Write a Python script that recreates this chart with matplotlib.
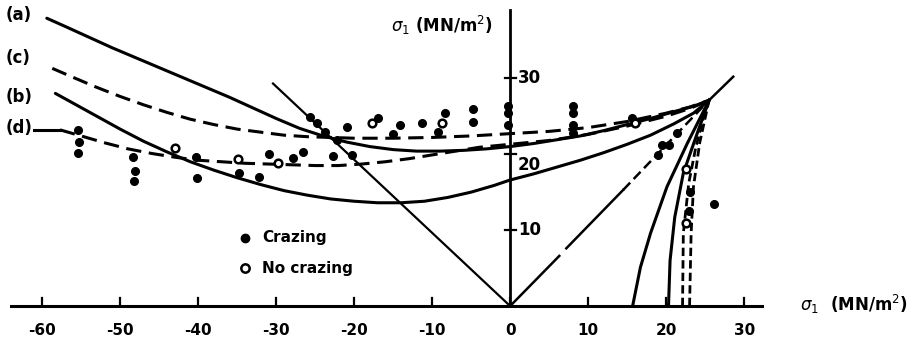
import matplotlib.pyplot as plt

# curve data (sigma_2, sigma_1)
a_x = [-59.4, -57, -54, -51, -48, -45, -42, -39, -36, -33, -30, -27, -24, -21, -18, -15, -12, -9, -6, -3,
       0, 3, 6, 9, 12, 15, 18, 21, 23.5, 25.5]
a_y = [37.9, 36.8, 35.4, 34.0, 32.7, 31.4, 30.1, 28.8, 27.5, 26.1, 24.7, 23.4, 22.4, 21.6, 21.0, 20.6, 20.4,
       20.4, 20.5, 20.7, 21.0, 21.4, 21.9, 22.4, 23.1, 23.9, 24.7, 25.6, 26.3, 27.1]

b_x = [-58.3, -56, -53, -50, -47, -44, -41, -38, -35, -32, -29, -26, -23, -20, -17, -14, -11, -8, -5, -2,
       0, 3, 6, 9, 12, 15, 18, 21, 23.5, 25.5]
b_y = [28.0, 26.7, 25.0, 23.3, 21.7, 20.3, 19.0, 17.9, 16.9, 16.0, 15.2, 14.6, 14.1, 13.8, 13.6, 13.6, 13.8,
       14.3, 15.0, 15.9, 16.6, 17.4, 18.3, 19.2, 20.2, 21.3, 22.5, 24.0, 25.4, 27.1]

c_x = [-58.7, -56, -53, -50, -47, -44, -41, -38, -35, -32, -29, -26, -23, -20, -15, -10, -5, 0, 5, 10, 15,
       20, 23, 25.5]
c_y = [31.3, 30.1, 28.8, 27.6, 26.5, 25.5, 24.6, 23.9, 23.3, 22.9, 22.5, 22.3, 22.2, 22.1, 22.1, 22.2, 22.4,
       22.7, 23.0, 23.5, 24.3, 25.4, 26.2, 27.1]

d_x = [-57.7, -55, -52, -49, -46, -43, -40, -37, -34, -31, -28, -25, -22, -19, -16, -13, -10, -7, -4, -1,
       2, 5, 10, 15, 20, 23, 25.5]
d_y = [23.2, 22.4, 21.5, 20.7, 20.1, 19.6, 19.2, 19.0, 18.8, 18.7, 18.6, 18.5, 18.5, 18.7, 19.0, 19.4, 19.9,
       20.4, 20.9, 21.2, 21.5, 21.8, 22.6, 23.7, 25.0, 26.0, 27.1]

# near-vertical curves on the right
r1_x = [15.7, 16.7, 18.0, 20.1, 22.7, 25.5]
r1_y = [0.0, 5.1, 9.6, 15.7, 21.4, 27.1]
r2_x = [20.3, 20.5, 21.1, 22.2, 24.0, 25.5]
r2_y = [0.0, 6.0, 11.7, 17.5, 22.8, 27.1]
r3_x = [22.1, 22.2, 22.9, 23.8, 24.8, 25.5]
r3_y = [0.0, 9.6, 16.2, 20.9, 24.9, 27.1]
r4_x = [23.0, 23.2, 23.5, 24.3, 25.5]
r4_y = [0.0, 9.6, 15.7, 21.5, 27.1]

# straight lines through the origin
left_x = [-30.4, 0]
left_y = [29.3, 0]
diag_x = [0, 6.3, 7.2, 14.5, 25.5, 28.6]
diag_y = [0, 6.6, 7.6, 15.3, 27.1, 30.2]

# data points
craz_x = [-55.4, -55.3, -55.4, -48.4, -48.1, -48.2, -40.3, -40.2, -34.7, -32.2, -30.9, -27.9, -26.6,
          -22.7, -20.3, -25.7, -24.8, -23.8, -22.2, -20.9, -16.9, -14.1, -15.0, -11.3, -8.3, -9.3,
          -4.8, -4.8, -0.3, -0.3, -0.3, 8.0, 8.0, 8.0, 8.0, 21.4, 20.3, 19.5, 18.9, 15.6, 26.1, 23.1, 22.9]
craz_y = [23.2, 21.6, 20.1, 19.6, 17.8, 16.4, 19.6, 16.8, 17.5, 17.0, 20.0, 19.5, 20.3,
          19.7, 19.9, 24.9, 24.1, 22.9, 21.8, 23.6, 24.7, 23.8, 22.7, 24.1, 25.4, 22.9,
          26.0, 24.2, 26.4, 25.4, 23.9, 26.4, 25.4, 23.8, 22.8, 22.8, 21.2, 21.2, 19.9, 24.7, 13.5, 15.0, 12.5]
nocraz_x = [-43.0, -34.9, -29.8, -17.7, -8.7, 16.0, 22.6, 22.6]
nocraz_y = [20.8, 19.3, 18.8, 24.1, 24.1, 24.1, 11.0, 18.0]

x_ticks = [-60, -50, -40, -30, -20, -10, 0, 10, 20, 30]
y_ticks = [10, 20, 30]
curve_labels = ["(a)", "(c)", "(b)", "(d)"]
label_y = [38.3, 32.6, 27.5, 23.4]

fig = plt.figure(figsize=(9.15, 3.45), dpi=100)
ax = fig.add_axes([0, 0, 1, 1])
ax.set_xlim(-65.4, 51.9)
ax.set_ylim(-5.13, 40.3)
ax.axis("off")

k = "black"
# axes drawn by hand like the original sketch
ax.plot([-64, 32.3], [0, 0], color=k, lw=2.2)
ax.plot([0, 0], [0, 39], color=k, lw=2.0)
for t in x_ticks:
    ax.plot([t, t], [0, 1.1], color=k, lw=1.6)
    ax.text(t, -3.2, str(t), ha="center", va="center", fontsize=11, fontweight="bold")
for t in y_ticks:
    ax.plot([-0.7, 0.7], [t, t], color=k, lw=1.6)
lab_y = {10: 10, 20: 18.6, 30: 30}
for t in y_ticks:
    ax.text(1.0, lab_y[t], str(t), ha="left", va="center", fontsize=12, fontweight="bold")

# criteria curves
ax.plot(a_x, a_y, color=k, lw=2.2, solid_capstyle="round", solid_joinstyle="round")
ax.plot(b_x, b_y, color=k, lw=2.2, solid_capstyle="round", solid_joinstyle="round")
ax.plot(c_x, c_y, color=k, lw=2.2, dashes=(5, 2.5))
ax.plot(d_x, d_y, color=k, lw=2.2, dashes=(5, 2.5))
ax.plot([-61.0, d_x[0]], [d_y[0], d_y[0]], color=k, lw=2.2)

ax.plot(r1_x, r1_y, color=k, lw=2.2)
ax.plot(r2_x, r2_y, color=k, lw=2.2)
ax.plot(r3_x, r3_y, color=k, lw=2.0, dashes=(3, 1.5))
ax.plot(r4_x, r4_y, color=k, lw=2.0, dashes=(3, 1.5))

ax.plot(left_x, left_y, color=k, lw=1.6)
ax.plot(diag_x[0:2], diag_y[0:2], color=k, lw=1.8)
ax.plot(diag_x[2:4], diag_y[2:4], color=k, lw=1.8)
ax.plot(diag_x[3:5], diag_y[3:5], color=k, lw=1.8, dashes=(4, 2))
ax.plot(diag_x[4:6], diag_y[4:6], color=k, lw=1.8)

ax.plot(craz_x, craz_y, "o", color=k, ms=5.5, ls="none")
ax.plot(nocraz_x, nocraz_y, "o", mfc="white", mec=k, mew=1.8, ms=5.5, ls="none")

for s, yy in zip(curve_labels, label_y):
    ax.text(-64.7, yy, s, ha="left", va="center", fontsize=12, fontweight="bold")

# legend
ax.plot([-34], [9], "o", color=k, ms=6)
ax.text(-31.8, 9, "Crazing", ha="left", va="center", fontsize=11, fontweight="bold")
ax.plot([-34], [5], "o", mfc="white", mec=k, mew=1.8, ms=6)
ax.text(-31.8, 5, "No crazing", ha="left", va="center", fontsize=11, fontweight="bold")

# axis titles
ax.text(-8.7, 37.0, r"$\sigma_1$ (MN/m$^2$)", ha="center", va="center", fontsize=12, fontweight="bold")
ax.text(37.2, 0.2, r"$\sigma_1$  (MN/m$^2$)", ha="left", va="center", fontsize=12, fontweight="bold")

fig.savefig("out.png", dpi=100)
